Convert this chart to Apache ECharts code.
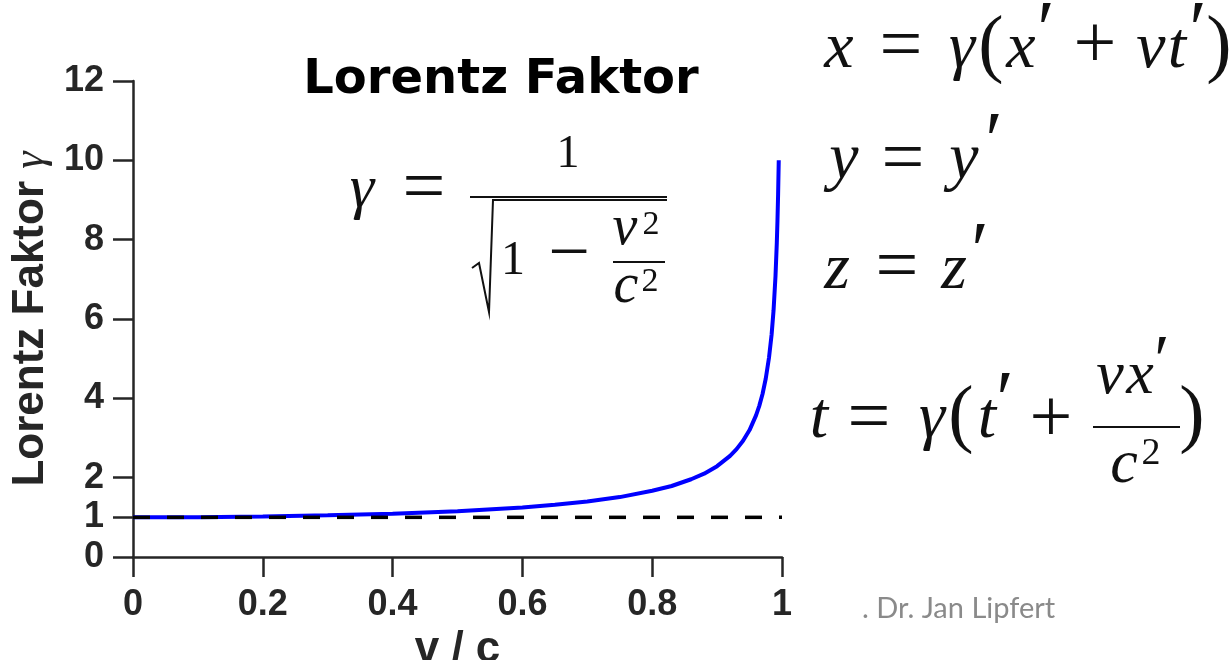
<!DOCTYPE html>
<html><head><meta charset="utf-8">
<script src="https://cdn.jsdelivr.net/npm/echarts@6/dist/echarts.min.js"></script>
<style>html,body{margin:0;padding:0;background:#fff}#c{width:1232px;height:660px}</style>
</head><body><div id="c"></div>
<script>
// ---- data ----
const vOverC = [0, 0.1, 0.2, 0.3, 0.4, 0.5, 0.6, 0.65, 0.7, 0.75, 0.8, 0.83, 0.86, 0.88, 0.9, 0.92, 0.93, 0.94, 0.95, 0.96, 0.965, 0.97, 0.975, 0.98, 0.984, 0.987, 0.99, 0.992, 0.993, 0.994, 0.995];
const gammaValues = [1, 1.005, 1.02, 1.05, 1.09, 1.155, 1.25, 1.32, 1.40, 1.51, 1.67, 1.79, 1.96, 2.10, 2.29, 2.55, 2.72, 2.93, 3.20, 3.57, 3.81, 4.11, 4.50, 5.03, 5.61, 6.22, 7.09, 7.92, 8.47, 9.14, 10.0];
const refLineX = [0, 1];
const refLineY = [1, 1];
const yTickValues = [0, 1, 2, 4, 6, 8, 10, 12];
const titleText = 'Lorentz Faktor';
const xAxisName = 'v / c';
const yAxisName = 'Lorentz Faktor';
const yAxisSymbol = 'γ';
const creditText = '. Dr. Jan Lipfert';

// ---- formula glyph helpers (layout only) ----
const SERIF = '"Liberation Serif", "DejaVu Serif", serif';
function glyph(ch, cx, base, size, italic) {
  return { type: 'text', silent: true, z: 10,
    style: { text: ch, x: cx, y: base - 0.3375 * size,
      font: (italic ? 'italic ' : '') + size + 'px ' + SERIF,
      fill: '#111', align: 'center', verticalAlign: 'middle' } };
}
function op(ch, cx, cy, size) {
  return { type: 'text', silent: true, z: 10,
    style: { text: ch, x: cx, y: cy - 0.08 * size,
      font: size + 'px ' + SERIF, fill: '#111', align: 'center', verticalAlign: 'middle' } };
}
function rule(x1, y1, x2, y2, w) {
  return { type: 'line', silent: true, z: 10,
    shape: { x1: x1, y1: y1, x2: x2, y2: y2 },
    style: { stroke: '#111', lineWidth: w || 2 } };
}

const S = 66;
const formula = [];
// x = γ(x' + vt')   baseline 72
formula.push(glyph('x', 839, 72, S, true), op('=', 901, 55, 76), glyph('γ', 962, 72, S, true),
  glyph('(', 991, 74, 76, false), glyph('x', 1021, 72, S, true), glyph('′', 1046, 62, 80, false),
  op('+', 1095, 53, 76), glyph('v', 1151, 72, S, true), glyph('t', 1177, 72, S, true),
  glyph('′', 1198, 62, 80, false), glyph(')', 1219, 74, 76, false));
// y = y'   baseline 183
formula.push(glyph('y', 844, 183, S, true), op('=', 903, 168, 76), glyph('y', 964, 183, S, true),
  glyph('′', 994, 173, 80, false));
// z = z'   baseline 293
formula.push(glyph('z', 837, 293, S, true), op('=', 897, 276, 76), glyph('z', 954, 293, S, true),
  glyph('′', 980, 283, 80, false));
// t = γ(t' + vx'/c²)   baseline 442
formula.push(glyph('t', 819, 442, S, true), op('=', 869, 427, 76), glyph('γ', 932, 442, S, true),
  glyph('(', 961, 444, 76, false), glyph('t', 987, 442, S, true), glyph('′', 1005, 432, 80, false),
  op('+', 1051, 427, 76), rule(1093, 427, 1180, 427, 2.2),
  glyph('v', 1110, 398, 62, true), glyph('x', 1140, 398, 62, true), glyph('′', 1162, 388, 70, false),
  glyph('c', 1124, 487, 62, true), glyph('2', 1151, 467, 38, false),
  glyph(')', 1192, 444, 76, false));
// γ = 1 / sqrt(1 - v²/c²) inside plot
formula.push(glyph('γ', 362, 212, 62, true), op('=', 424, 197, 76),
  glyph('1', 568, 170, 46, false), rule(470, 197, 667, 197, 2),
  { type: 'polyline', silent: true, z: 10,
    shape: { points: [[472, 268], [479, 263], [489, 312], [493, 200], [667, 200]] },
    style: { stroke: '#111', lineWidth: 2, fill: null } },
  glyph('1', 513, 278, 48, false), op('−', 569, 262, 74),
  glyph('v', 625, 248, 56, true), glyph('2', 651, 237, 34, false), rule(613, 262, 665, 262, 2),
  glyph('c', 626, 306, 56, true), glyph('2', 650, 294, 34, false));

formula.push({ type: 'text', silent: true, z: 10,
  style: { text: creditText, x: 862, y: 609, font: '29px Lato, "Open Sans", sans-serif',
    fill: '#8a8a8a', align: 'left', verticalAlign: 'middle' } });

const chart = echarts.init(document.getElementById('c'), null, { renderer: 'canvas' });
const axisColor = '#262626';
chart.setOption({
  animation: false,
  backgroundColor: '#fff',
  title: { text: titleText, left: 496, top: 52, textAlign: 'center',
    textStyle: { fontFamily: '"DejaVu Sans", sans-serif', fontWeight: 'bold', fontSize: 48, color: '#000' } },
  grid: { left: 133, right: 450, top: 81, bottom: 103, containLabel: false, outerBoundsMode: 'none' },
  xAxis: {
    type: 'value', min: 0, max: 1, interval: 0.2,
    name: xAxisName, nameLocation: 'middle', nameGap: 62,
    nameTextStyle: { fontFamily: '"Liberation Sans", Arial, sans-serif', fontWeight: 'bold', fontSize: 44, color: axisColor },
    axisLine: { show: true, onZero: false, lineStyle: { color: axisColor, width: 2.5 } },
    axisTick: { show: true, inside: false, length: 20, lineStyle: { color: axisColor, width: 2.5 } },
    axisLabel: { margin: 30, fontFamily: '"Liberation Sans", Arial, sans-serif', fontWeight: 'bold', fontSize: 36, color: axisColor },
    splitLine: { show: false }
  },
  yAxis: {
    type: 'value', min: 0, max: 12, interval: 1,
    name: '{a|' + yAxisName + ' }{g|' + yAxisSymbol + '}', nameLocation: 'middle', nameRotate: 90, nameGap: 72,
    nameTextStyle: { rich: {
      a: { fontFamily: '"Liberation Sans", Arial, sans-serif', fontWeight: 'bold', fontSize: 44, color: axisColor },
      g: { fontFamily: SERIF, fontStyle: 'italic', fontSize: 44, color: axisColor } } },
    axisLine: { show: true, onZero: false, lineStyle: { color: axisColor, width: 2.5 } },
    axisTick: { show: true, inside: false, length: 20, customValues: yTickValues, lineStyle: { color: axisColor, width: 2.5 } },
    axisLabel: { margin: 29, customValues: yTickValues, fontFamily: '"Liberation Sans", Arial, sans-serif', fontWeight: 'bold', fontSize: 36, color: axisColor },
    splitLine: { show: false }
  },
  series: [
    { type: 'line', name: 'gamma', data: vOverC.map((v, i) => [v, gammaValues[i]]),
      showSymbol: false, symbol: 'none', smooth: false, z: 2,
      lineStyle: { color: '#0000ff', width: 4 } },
    { type: 'line', name: 'ref', data: refLineX.map((v, i) => [v, refLineY[i]]),
      showSymbol: false, symbol: 'none', z: 3,
      lineStyle: { color: '#000', width: 3.5, type: [17, 17], cap: 'butt' } }
  ],
  graphic: formula
});
</script>
</body></html>
